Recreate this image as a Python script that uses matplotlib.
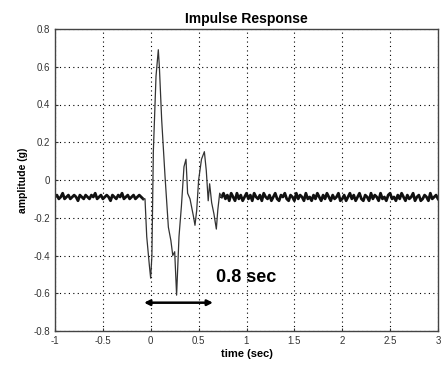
import matplotlib
matplotlib.use("Agg")
import matplotlib.pyplot as plt
import numpy as np

plt.rcParams['font.family'] = ['Liberation Sans', 'DejaVu Sans']

# quiet level before the impulse (-1.0 .. -0.08 s)
pre_vals = [-0.09, -0.08, -0.10, -0.09, -0.07, -0.10, -0.09, -0.08, -0.10, -0.09,
            -0.08, -0.09, -0.11, -0.08, -0.09, -0.10, -0.08, -0.09, -0.10, -0.08,
            -0.09, -0.07, -0.10, -0.09, -0.08, -0.10, -0.09, -0.08, -0.09, -0.11,
            -0.08, -0.09, -0.10, -0.08, -0.09, -0.07, -0.10, -0.09, -0.08, -0.10,
            -0.09, -0.08, -0.10, -0.09, -0.08, -0.09, -0.10]

# the impulse itself
imp_t = [-0.06, -0.042, -0.015, -0.001, 0.012, 0.027, 0.055, 0.079, 0.09, 0.114,
         0.149, 0.184, 0.21, 0.23, 0.25, 0.27, 0.295, 0.32, 0.347, 0.368,
         0.385, 0.41, 0.445, 0.462, 0.48, 0.5, 0.53, 0.56, 0.58, 0.6,
         0.615, 0.636, 0.66, 0.685, 0.70, 0.72]
imp_y = [-0.10, -0.30, -0.45, -0.52, -0.40, 0.15, 0.55, 0.69, 0.60, 0.32,
         0.02, -0.25, -0.32, -0.40, -0.38, -0.61, -0.30, -0.14, 0.07, 0.11,
         -0.07, -0.10, -0.19, -0.24, -0.16, 0.00, 0.11, 0.15, 0.05, -0.11,
         -0.02, -0.12, -0.18, -0.26, -0.16, -0.07]

# settled level after the impulse (0.74 .. 3.0 s)
post_vals = [-0.09, -0.07, -0.10, -0.08, -0.11, -0.07, -0.09, -0.11, -0.07, -0.10,
             -0.08, -0.11, -0.09, -0.07, -0.10, -0.08, -0.11, -0.07, -0.09, -0.10,
             -0.08, -0.11, -0.07, -0.09, -0.10, -0.08, -0.11, -0.09, -0.07, -0.10,
             -0.11, -0.08, -0.09, -0.07, -0.10, -0.11, -0.08, -0.09, -0.11, -0.07,
             -0.10, -0.08, -0.09, -0.11, -0.07, -0.10, -0.09, -0.11, -0.08, -0.10,
             -0.07, -0.09, -0.11, -0.08, -0.10, -0.07, -0.09, -0.11, -0.08, -0.10,
             -0.09, -0.07, -0.11, -0.10, -0.08, -0.11, -0.09, -0.07, -0.10, -0.08,
             -0.11, -0.09, -0.07, -0.10, -0.11, -0.08, -0.09, -0.11, -0.07, -0.10,
             -0.08, -0.09, -0.11, -0.07, -0.10, -0.09, -0.11, -0.08, -0.07, -0.10,
             -0.09, -0.11, -0.08, -0.10, -0.07, -0.09, -0.11, -0.08, -0.10, -0.09,
             -0.07, -0.11, -0.09, -0.08, -0.11, -0.10, -0.08, -0.09, -0.11, -0.07,
             -0.10, -0.09, -0.08, -0.10]

xticks = [-1, -0.5, 0, 0.5, 1, 1.5, 2, 2.5, 3]
xticklabels = ['-1', '-0.5', '0', '0.5', '1', '1.5', '2', '2.5', '3']
yticks = [-0.8, -0.6, -0.4, -0.2, 0, 0.2, 0.4, 0.6, 0.8]
yticklabels = ['-0.8', '-0.6', '-0.4', '-0.2', '0', '0.2', '0.4', '0.6', '0.8']

arrow_x = (-0.07, 0.65)
arrow_y = -0.65

pre_t = np.linspace(-1.0, -0.08, len(pre_vals))
post_t = np.linspace(0.74, 3.0, len(post_vals))
imp_t_full = [pre_t[-1]] + imp_t + [post_t[0]]
imp_y_full = [pre_vals[-1]] + imp_y + [post_vals[0]]

fig = plt.figure(figsize=(4.44, 3.65), dpi=100)
ax = fig.add_axes([55 / 444, 34 / 365, 383 / 444, 302 / 365])

ax.plot(pre_t, pre_vals, color='#111111', lw=2.0)
ax.plot(post_t, post_vals, color='#111111', lw=2.0)
ax.plot(imp_t_full, imp_y_full, color='#333333', lw=0.9)

ax.set_xlim(-1, 3)
ax.set_ylim(-0.8, 0.8)
ax.set_xticks(xticks)
ax.set_xticklabels(xticklabels)
ax.set_yticks(yticks)
ax.set_yticklabels(yticklabels)
ax.tick_params(labelsize=7, colors='#333333', length=2, direction='in')
ax.grid(True, color='black', linestyle=(0, (1, 3)), linewidth=0.8)
for s in ax.spines.values():
    s.set_linewidth(1.0)
    s.set_color('#444444')

ax.set_title('Impulse Response', fontsize=10, fontweight='bold', pad=4)
ax.set_xlabel('time (sec)', fontsize=8, fontweight='bold', labelpad=2)
ax.set_ylabel('amplitude (g)', fontsize=7.5, fontweight='bold', labelpad=4)

ax.annotate('', xy=(arrow_x[0], arrow_y), xytext=(arrow_x[1], arrow_y),
            arrowprops=dict(arrowstyle='<|-|>', color='black', lw=1.8,
                            mutation_scale=8, shrinkA=0, shrinkB=0))
ax.text(1.0, -0.515, '0.8 sec', fontsize=13, fontweight='bold',
        ha='center', va='center')

fig.savefig('out.png', dpi=100)
